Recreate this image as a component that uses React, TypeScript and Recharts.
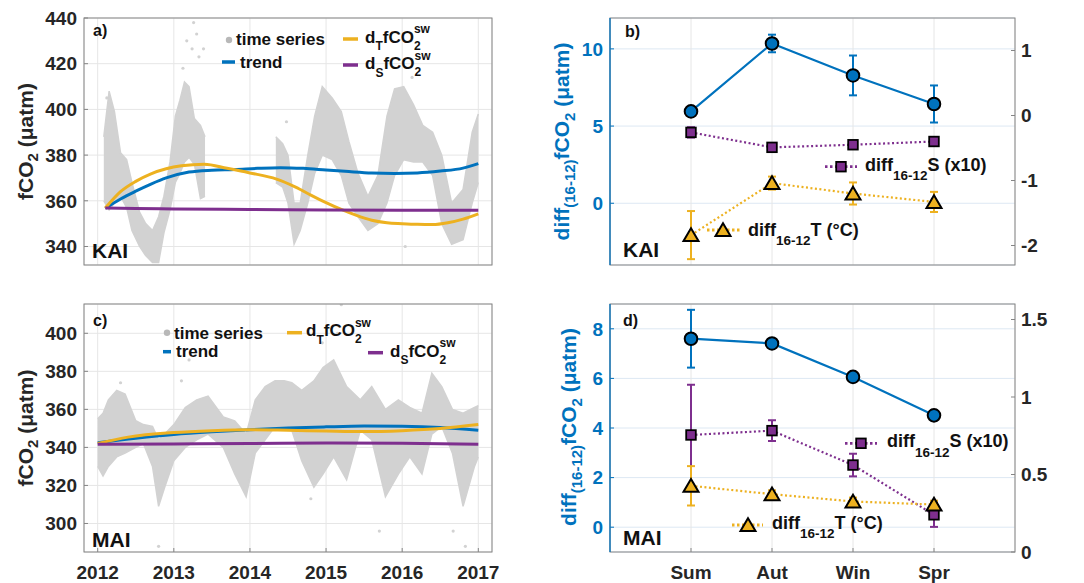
import React from "react";
import { ComposedChart, Line, Area, XAxis, YAxis, CartesianGrid, ErrorBar } from "recharts";

const FONT = '"Liberation Sans", Arial, Helvetica, sans-serif';
const BLUE = "#0072BD";
const ORANGE = "#EDB120";
const PURPLE = "#7E2F8E";
const DOTS = "#d2d2d2";
const INK = "#262626";
const FRAME = "#858585";

const years = [2012, 2013, 2014, 2015, 2016, 2017];

// KAI high-frequency fCO2 record, read as lower / upper edge of the point cloud
const kaiTime = [2012.08, 2012.15, 2012.22, 2012.3, 2012.38, 2012.45, 2012.55, 2012.63, 2012.72, 2012.8, 2012.87, 2012.95, 2013.02, 2013.08, 2013.14, 2013.2, 2013.27, 2013.35, 2013.41, 2013.8, 2014.34, 2014.43, 2014.5, 2014.58, 2014.66, 2014.76, 2014.85, 2014.95, 2015.08, 2015.2, 2015.3, 2015.42, 2015.55, 2015.68, 2015.8, 2015.9, 2016.02, 2016.15, 2016.27, 2016.4, 2016.52, 2016.65, 2016.8, 2016.92, 2017.0];
const kaiLow = [360, 356, 359, 362, 357, 347, 340, 336, 333, 333, 346, 356, 368, 372, 377, 379, 376, 361, 362, null, 368, 366, 359, 341, 347, 359, 372, 380, 378, 371, 359, 353, 347, 350, 359, 371, 378, 377, 377, 371, 350, 341, 343, 359, 368];
const kaiHigh = [388, 408, 399, 381, 378, 368, 355, 350, 347, 353, 362, 377, 397, 404, 412, 410, 396, 393, 388, null, 388, 385, 380, 359, 359, 380, 397, 410, 405, 399, 386, 372, 362, 371, 397, 409, 410, 402, 393, 390, 380, 359, 365, 390, 398];
const kaiOutT = [2013.17, 2013.26, 2013.24, 2013.33, 2013.39, 2013.3, 2012.12, 2016.04, 2014.48, 2016.13, 2013.12];
const kaiOutV = [430, 438, 426.5, 423, 426.5, 433, 405, 340, 394.6, 414, 418];

const kaiTrendT = [2012.1, 2012.3, 2012.5, 2012.7, 2012.9, 2013.2, 2013.5, 2013.8, 2014.1, 2014.4, 2014.7, 2015.0, 2015.3, 2015.6, 2015.9, 2016.2, 2016.5, 2016.8, 2017.0];
const kaiTrend = [356.7, 360.8, 364.2, 367.3, 370.0, 372.6, 373.4, 373.7, 374.2, 374.5, 374.2, 373.5, 372.8, 372.2, 372.0, 372.2, 373.0, 374.3, 376.3];
const kaiDT_T = [2012.1, 2012.3, 2012.5, 2012.7, 2012.9, 2013.1, 2013.4, 2013.7, 2014.0, 2014.35, 2014.6, 2014.8, 2015.0, 2015.2, 2015.4, 2015.6, 2015.8, 2016.0, 2016.2, 2016.4, 2016.6, 2016.8, 2017.0];
const kaiDT = [356.8, 364.0, 368.5, 371.8, 374.0, 375.3, 376.0, 374.2, 372.2, 369.5, 366.0, 362.5, 359.2, 356.2, 353.6, 351.5, 350.4, 350.0, 349.7, 349.6, 350.4, 352.0, 354.3];
const kaiDS_T = [2012.1, 2012.5, 2013.0, 2014.0, 2015.0, 2016.0, 2017.0];
const kaiDS = [356.8, 356.6, 356.4, 356.2, 356.0, 355.9, 355.9];

// MAI high-frequency fCO2 record
const maiTime = [2012.0, 2012.07, 2012.14, 2012.25, 2012.36, 2012.5, 2012.6, 2012.72, 2012.8, 2012.88, 2013.0, 2013.15, 2013.3, 2013.45, 2013.65, 2013.8, 2013.95, 2014.07, 2014.2, 2014.33, 2014.45, 2014.55, 2014.68, 2014.84, 2014.96, 2015.1, 2015.27, 2015.45, 2015.6, 2015.78, 2015.95, 2016.1, 2016.26, 2016.39, 2016.52, 2016.66, 2016.8, 2016.95, 2017.0];
const maiLow = [330, 325, 330, 335, 337, 340, 342, 330, 309, 319, 333, 340, 344, 347, 340, 326, 314, 337, 344, 351, 351, 349, 333, 319, 326, 335, 323, 349, 344, 314, 326, 335, 326, 347, 351, 337, 309, 330, 335];
const maiHigh = [355, 358, 365, 370, 368, 354, 352, 351, 344, 347, 352, 361, 365, 367, 356, 354, 347, 365, 372, 375, 375, 374, 370, 375, 382, 386, 372, 365, 372, 360, 365, 361, 358, 379, 372, 360, 358, 361, 362];
const maiOutT = [2012.8, 2015.2, 2015.7, 2016.67, 2016.83, 2013.2, 2013.1, 2012.3, 2014.95, 2015.15, 2014.8];
const maiOutV = [288, 415, 296, 296, 288, 386, 375, 374, 395, 400, 313];

const maiTrendT = [2012.0, 2012.5, 2013.0, 2013.5, 2014.0, 2014.5, 2015.0, 2015.5, 2016.0, 2016.5, 2017.0];
const maiTrend = [342.4, 344.8, 346.8, 348.2, 349.3, 350.2, 350.8, 351.2, 351.1, 350.5, 349.0];
const maiDT_T = [2012.0, 2012.4, 2013.0, 2013.5, 2014.0, 2014.5, 2015.0, 2015.5, 2016.0, 2016.5, 2017.0];
const maiDT = [342.1, 345.4, 347.8, 348.8, 349.3, 349.0, 348.6, 348.3, 348.8, 349.9, 352.0];
const maiDS_T = [2012.0, 2013.0, 2014.0, 2015.0, 2016.0, 2017.0];
const maiDS = [341.6, 341.8, 342.0, 342.3, 342.2, 341.7];

// seasonal 2016-2012 differences
const seasons = ["Sum", "Aut", "Win", "Spr"];
const kaiCo2Diff = [5.95, 10.35, 8.28, 6.43];
const kaiCo2Err = [0.15, 0.57, 1.29, 1.2];
const kaiSalDiff = [-0.26, -0.49, -0.45, -0.4];
const kaiSalErr = [0.08, 0.03, 0.03, 0.03];
const kaiTempDiff = [-1.84, -1.04, -1.2, -1.33];
const kaiTempErr = [0.37, 0.1, 0.17, 0.155];
const maiCo2Diff = [7.6, 7.41, 6.06, 4.51];
const maiCo2Err = [1.165, 0.15, 0.2, 0.2];
const maiSalDiff = [0.755, 0.783, 0.561, 0.24];
const maiSalErr = [0.324, 0.067, 0.073, 0.078];
const maiTempDiff = [0.427, 0.373, 0.326, 0.306];
const maiTempErr = [0.127, 0.025, 0.025, 0.025];

const toBand = (t: number[], lo: (number | null)[], hi: (number | null)[]) =>
  t.map((x, i) => ({ t: x, range: lo[i] == null ? null : [lo[i], hi[i]] }));
const toSeries = (t: number[], v: number[]) => t.map((x, i) => ({ t: x, v: v[i] }));
const toRows = (co2: number[], co2e: number[], sal: number[], sale: number[], tmp: number[], tmpe: number[]) =>
  seasons.map((s, i) => ({ x: i + 1, co2: co2[i], co2e: co2e[i], sal: sal[i], sale: sale[i], tmp: tmp[i], tmpe: tmpe[i] }));

const tickStyle = { fontFamily: FONT, fontWeight: 700, fontSize: 19, fill: INK };
const noLabel = () => <g />;

function TimePanel(props: any) {
  const { top, height, mt, showYears, yDomain, yTicks, band, trend, dT, dS, outliers } = props;
  return (
    <div style={{ position: "absolute", left: 0, top }}>
      <ComposedChart width={540} height={height} data={band} margin={{ top: mt, right: 48, bottom: showYears ? 0 : 25, left: 0 }}>
        <CartesianGrid stroke="#e6e6e6" />
        <XAxis
          dataKey="t"
          type="number"
          domain={[2011.82, 2017.18]}
          ticks={years}
          allowDataOverflow
          height={showYears ? 31 : 0}
          tick={showYears ? tickStyle : noLabel}
          axisLine={false}
          tickLine={{ stroke: FRAME }}
          tickSize={-4}
          tickMargin={18}
        />
        <YAxis
          type="number"
          domain={yDomain}
          ticks={yTicks}
          allowDataOverflow
          width={84}
          axisLine={false}
          tickLine={{ stroke: FRAME }}
          tickSize={-4}
          tickMargin={11}
          tick={tickStyle}
        />
        <Area dataKey="range" type="linear" fill={DOTS} fillOpacity={1} stroke={DOTS} strokeWidth={1.5} isAnimationActive={false} />
        <Line data={outliers} dataKey="v" stroke="none" dot={{ r: 1.6, fill: DOTS, stroke: "none" }} activeDot={false} isAnimationActive={false} />
        <Line data={trend} dataKey="v" type="monotone" stroke={BLUE} strokeWidth={3} dot={false} activeDot={false} isAnimationActive={false} />
        <Line data={dT} dataKey="v" type="monotone" stroke={ORANGE} strokeWidth={3} dot={false} activeDot={false} isAnimationActive={false} />
        <Line data={dS} dataKey="v" type="monotone" stroke={PURPLE} strokeWidth={3} dot={false} activeDot={false} isAnimationActive={false} />
      </ComposedChart>
    </div>
  );
}

const circleDot = (p: any) =>
  p.cx == null ? null : <circle key={`c${p.index}`} cx={p.cx} cy={p.cy} r={6.3} fill={BLUE} stroke="#000" strokeWidth={2} />;
const squareDot = (p: any) =>
  p.cx == null ? null : <rect key={`s${p.index}`} x={p.cx - 4.8} y={p.cy - 4.8} width={9.6} height={9.6} fill={PURPLE} stroke="#000" strokeWidth={1.8} />;
const triangleDot = (p: any) =>
  p.cx == null ? null : (
    <polygon
      key={`t${p.index}`}
      points={`${p.cx},${p.cy - 6.8} ${p.cx + 7.5},${p.cy + 6} ${p.cx - 7.5},${p.cy + 6}`}
      fill={ORANGE}
      stroke="#000"
      strokeWidth={2}
      strokeLinejoin="miter"
    />
  );

function SeasonPanel(props: any) {
  const { top, height, mt, showX, leftDomain, leftTicks, rightDomain, rightTicks, rows } = props;
  return (
    <div style={{ position: "absolute", left: 540, top }}>
      <ComposedChart width={544} height={height} data={rows} margin={{ top: mt, right: 0, bottom: showX ? 0 : 25, left: 0 }}>
        <CartesianGrid yAxisId="left" vertical={false} stroke="#dde8f3" />
        <CartesianGrid yAxisId="left" horizontal={false} stroke="#e6e6e6" />
        <XAxis
          dataKey="x"
          type="number"
          domain={[0, 5]}
          ticks={[1, 2, 3, 4]}
          tickFormatter={(v: number) => seasons[v - 1]}
          height={showX ? 31 : 0}
          tick={showX ? tickStyle : noLabel}
          axisLine={false}
          tickLine={{ stroke: FRAME }}
          tickSize={-4}
          tickMargin={18}
        />
        <YAxis
          yAxisId="left"
          type="number"
          domain={leftDomain}
          ticks={leftTicks}
          allowDataOverflow
          width={70}
          axisLine={false}
          tickLine={{ stroke: BLUE }}
          tickSize={-4}
          tickMargin={11}
          tick={{ ...tickStyle, fill: BLUE }}
        />
        <YAxis
          yAxisId="right"
          orientation="right"
          type="number"
          domain={rightDomain}
          ticks={rightTicks}
          allowDataOverflow
          width={69}
          axisLine={false}
          tickLine={{ stroke: FRAME }}
          tickSize={-4}
          tickMargin={10}
          tick={tickStyle}
        />
        <Line yAxisId="right" dataKey="sal" stroke={PURPLE} strokeWidth={2.2} strokeDasharray="2 2.5" dot={squareDot} activeDot={false} isAnimationActive={false}>
          <ErrorBar dataKey="sale" width={4} stroke={PURPLE} strokeWidth={2} direction="y" />
        </Line>
        <Line yAxisId="right" dataKey="tmp" stroke={ORANGE} strokeWidth={2.2} strokeDasharray="2 2.5" dot={triangleDot} activeDot={false} isAnimationActive={false}>
          <ErrorBar dataKey="tmpe" width={4} stroke={ORANGE} strokeWidth={2} direction="y" />
        </Line>
        <Line yAxisId="left" dataKey="co2" stroke={BLUE} strokeWidth={2.2} dot={circleDot} activeDot={false} isAnimationActive={false}>
          <ErrorBar dataKey="co2e" width={4} stroke={BLUE} strokeWidth={2} direction="y" />
        </Line>
      </ComposedChart>
    </div>
  );
}

const txt = { fontFamily: FONT, fontWeight: 700, fill: "#111" } as const;

function DiffText({ x, y, tail }: { x: number; y: number; tail: string }) {
  return (
    <text x={x} y={y} fontSize={18} {...txt}>
      diff<tspan dy={9.5} fontSize={13.5}>16-12</tspan>
      <tspan dy={-9.5}>{tail}</tspan>
    </text>
  );
}

function DFco({ x, y, s }: { x: number; y: number; s: string }) {
  return (
    <text x={x} y={y} fontSize={17} {...txt}>
      d<tspan dy={7.5} fontSize={12}>{s}</tspan>
      <tspan dy={-7.5}>fCO</tspan>
      <tspan dy={7} fontSize={12}>2</tspan>
      <tspan dx={-6.7} dy={-16.5} fontSize={12}>sw</tspan>
    </text>
  );
}

function Overlay() {
  return (
    <svg width={1084} height={583} style={{ position: "absolute", left: 0, top: 0, pointerEvents: "none" }}>
      {/* axes boxes */}
      <rect x={84} y={18} width={408} height={247} fill="none" stroke={FRAME} />
      <rect x={84} y={304} width={408} height={248} fill="none" stroke={FRAME} />
      <rect x={610} y={18} width={405} height={247} fill="none" stroke={FRAME} />
      <line x1={610} y1={18} x2={610} y2={265} stroke={BLUE} strokeWidth={1.3} />
      <rect x={610} y={304} width={405} height={248} fill="none" stroke={FRAME} />
      <line x1={610} y1={304} x2={610} y2={552} stroke={BLUE} strokeWidth={1.3} />

      {/* axis titles */}
      <text transform="translate(33,141.5) rotate(-90)" textAnchor="middle" fontSize={21} {...txt} fill={INK}>
        fCO<tspan dy={5} fontSize={15}>2</tspan>
        <tspan dy={-5}> (μatm)</tspan>
      </text>
      <text transform="translate(33,428) rotate(-90)" textAnchor="middle" fontSize={21} {...txt} fill={INK}>
        fCO<tspan dy={5} fontSize={15}>2</tspan>
        <tspan dy={-5}> (μatm)</tspan>
      </text>
      <text transform="translate(569,141.5) rotate(-90)" textAnchor="middle" fontSize={21} {...txt} fill={BLUE}>
        diff<tspan dy={6} fontSize={15}>(16-12)</tspan>
        <tspan dy={-6}>fCO</tspan>
        <tspan dy={6} fontSize={15}>2</tspan>
        <tspan dy={-6}> (μatm)</tspan>
      </text>
      <text transform="translate(576,427) rotate(-90)" textAnchor="middle" fontSize={21} {...txt} fill={BLUE}>
        diff<tspan dy={6} fontSize={15}>(16-12)</tspan>
        <tspan dy={-6}>fCO</tspan>
        <tspan dy={6} fontSize={15}>2</tspan>
        <tspan dy={-6}> (μatm)</tspan>
      </text>

      {/* panel tags */}
      <text x={93} y={36} fontSize={16} {...txt}>a)</text>
      <text x={625} y={36.5} fontSize={16} {...txt}>b)</text>
      <text x={93} y={326} fontSize={16} {...txt}>c)</text>
      <text x={623} y={326} fontSize={16} {...txt}>d)</text>
      <text x={92} y={258} fontSize={21} {...txt}>KAI</text>
      <text x={623} y={256.5} fontSize={21} {...txt}>KAI</text>
      <text x={92} y={546.5} fontSize={21} {...txt}>MAI</text>
      <text x={623} y={545} fontSize={21} {...txt}>MAI</text>

      {/* legend a */}
      <circle cx={229} cy={40} r={3.2} fill="#b8b8b8" />
      <text x={236} y={45} fontSize={17} {...txt}>time series</text>
      <line x1={222} x2={235} y1={62} y2={62} stroke={BLUE} strokeWidth={3.5} />
      <text x={240} y={67.5} fontSize={17} {...txt}>trend</text>
      <line x1={343} x2={358} y1={39} y2={39} stroke={ORANGE} strokeWidth={3.5} />
      <DFco x={365} y={42.5} s="T" />
      <line x1={343} x2={358} y1={65} y2={65} stroke={PURPLE} strokeWidth={3.5} />
      <DFco x={365} y={69} s="S" />

      {/* legend c */}
      <circle cx={167} cy={332.7} r={3.2} fill="#b8b8b8" />
      <text x={174} y={338.5} fontSize={17} {...txt}>time series</text>
      <line x1={163} x2={171} y1={351.7} y2={351.7} stroke={BLUE} strokeWidth={3.5} />
      <text x={176} y={356.5} fontSize={17} {...txt}>trend</text>
      <line x1={287} x2={302} y1={332.7} y2={332.7} stroke={ORANGE} strokeWidth={3.5} />
      <DFco x={306} y={336} s="T" />
      <line x1={368} x2={383} y1={352.7} y2={352.7} stroke={PURPLE} strokeWidth={3.5} />
      <DFco x={390} y={356.5} s="S" />

      {/* legend b */}
      <line x1={825} x2={857} y1={166.7} y2={166.7} stroke={PURPLE} strokeWidth={2.8} strokeDasharray="2.5 2.5" />
      {squareDot({ cx: 841, cy: 166.7, index: "lb" })}
      <DiffText x={865} y={170.5} tail="S (x10)" />
      <line x1={707} x2={740} y1={230} y2={230} stroke={ORANGE} strokeWidth={2.8} strokeDasharray="2.5 2.5" />
      {triangleDot({ cx: 723, cy: 230, index: "lb" })}
      <DiffText x={748} y={235.5} tail="T (°C)" />

      {/* legend d */}
      <line x1={845} x2={877} y1={443.3} y2={443.3} stroke={PURPLE} strokeWidth={2.8} strokeDasharray="2.5 2.5" />
      {squareDot({ cx: 861, cy: 443.3, index: "ld" })}
      <DiffText x={887} y={447} tail="S (x10)" />
      <line x1={732} x2={763} y1={525} y2={525} stroke={ORANGE} strokeWidth={2.8} strokeDasharray="2.5 2.5" />
      {triangleDot({ cx: 748, cy: 525, index: "ld" })}
      <DiffText x={772} y={528.5} tail="T (°C)" />
    </svg>
  );
}

export default function App() {
  return (
    <div style={{ position: "absolute", left: 0, top: 0, width: 1084, height: 583, background: "#fff", fontFamily: FONT }}>
      <TimePanel
        top={0}
        height={290}
        mt={18}
        showYears={false}
        yDomain={[331.9, 440]}
        yTicks={[340, 360, 380, 400, 420, 440]}
        band={toBand(kaiTime, kaiLow, kaiHigh)}
        outliers={toSeries(kaiOutT, kaiOutV)}
        trend={toSeries(kaiTrendT, kaiTrend)}
        dT={toSeries(kaiDT_T, kaiDT)}
        dS={toSeries(kaiDS_T, kaiDS)}
      />
      <TimePanel
        top={290}
        height={293}
        mt={14}
        showYears
        yDomain={[285, 415.4]}
        yTicks={[300, 320, 340, 360, 380, 400]}
        band={toBand(maiTime, maiLow, maiHigh)}
        outliers={toSeries(maiOutT, maiOutV)}
        trend={toSeries(maiTrendT, maiTrend)}
        dT={toSeries(maiDT_T, maiDT)}
        dS={toSeries(maiDS_T, maiDS)}
      />
      <SeasonPanel
        top={0}
        height={290}
        mt={18}
        showX={false}
        leftDomain={[-4, 12]}
        leftTicks={[0, 5, 10]}
        rightDomain={[-2.3, 1.5]}
        rightTicks={[-2, -1, 0, 1]}
        rows={toRows(kaiCo2Diff, kaiCo2Err, kaiSalDiff, kaiSalErr, kaiTempDiff, kaiTempErr)}
      />
      <SeasonPanel
        top={290}
        height={293}
        mt={14}
        showX
        leftDomain={[-1, 9]}
        leftTicks={[0, 2, 4, 6, 8]}
        rightDomain={[0, 1.6]}
        rightTicks={[0, 0.5, 1, 1.5]}
        rows={toRows(maiCo2Diff, maiCo2Err, maiSalDiff, maiSalErr, maiTempDiff, maiTempErr)}
      />
      <Overlay />
    </div>
  );
}
